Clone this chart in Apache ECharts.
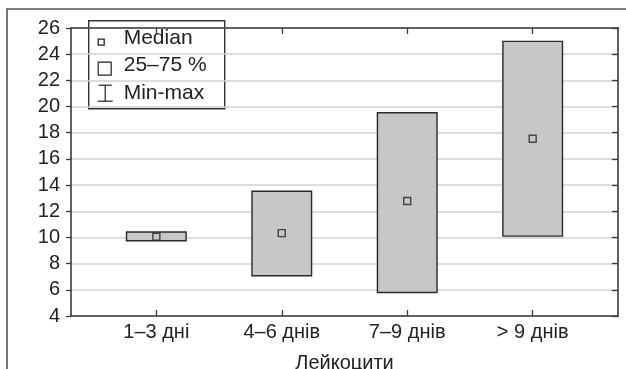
<!DOCTYPE html>
<html>
<head>
<meta charset="utf-8">
<script src="https://cdn.jsdelivr.net/npm/echarts@6/dist/echarts.min.js"></script>
<style>
html,body{margin:0;padding:0;background:#fff;}
#chart{width:626px;height:369px;}
</style>
</head>
<body>
<div id="chart"></div>
<script>
var categories = ['1–3 дні', '4–6 днів', '7–9 днів', '> 9 днів'];
var q1Values = [9.75, 7.08, 5.8, 10.1];
var q3Values = [10.42, 13.53, 19.53, 24.98];
var medianValues = [10.05, 10.33, 12.78, 17.54];
var yTicks = [4, 6, 8, 10, 12, 14, 16, 18, 20, 22, 24, 26];
var legendLabels = ['Median', '25–75 %', 'Min-max'];
var xAxisName = 'Лейкоцити';

var FONT = 'Liberation Sans, Arial, sans-serif';
var positions = categories.map(function (c, i) { return i + 1; });

var boxData = positions.map(function (p, i) { return [p, q1Values[i], q3Values[i]]; });
var medData = positions.map(function (p, i) { return [p, medianValues[i]]; });

var chart = echarts.init(document.getElementById('chart'), null, {renderer: 'canvas'});

var axisLine = {show: true, lineStyle: {color: '#3a3a3a', width: 1.6}};

var option = {
  backgroundColor: '#fff',
  animation: false,
  grid: {left: 71, right: 8, top: 28, bottom: 53, containLabel: false, outerBoundsMode: 'none'},
  xAxis: [{
    type: 'value', position: 'bottom', min: 0.32, max: 4.68,
    axisLine: axisLine,
    splitLine: {show: false},
    axisTick: {show: true, inside: true, length: 6, customValues: positions, lineStyle: {color: '#3a3a3a', width: 1.3}},
    axisLabel: {show: true, customValues: positions, margin: 6, fontFamily: FONT, fontSize: 20, color: '#222',
      formatter: function (v) { return categories[Math.round(v) - 1] || ''; }},
    name: xAxisName, nameLocation: 'middle', nameGap: 37,
    nameTextStyle: {fontFamily: FONT, fontSize: 20, color: '#222'}
  }, {
    type: 'value', position: 'top', min: 0.32, max: 4.68,
    axisLine: axisLine,
    splitLine: {show: false},
    axisTick: {show: true, inside: true, length: 6, customValues: positions, lineStyle: {color: '#3a3a3a', width: 1.3}},
    axisLabel: {show: false}
  }],
  yAxis: [{
    type: 'value', position: 'left', min: 4, max: 26, interval: 2,
    axisLine: axisLine,
    axisTick: {show: true, inside: false, length: 5, lineStyle: {color: '#3a3a3a', width: 1.3}},
    axisLabel: {show: true, margin: 11, fontFamily: FONT, fontSize: 20, color: '#222',
      formatter: function (v) { return yTicks.indexOf(v) >= 0 ? String(v) : ''; }},
    splitLine: {show: true, lineStyle: {color: '#d2d2d2', width: 1.5}}
  }, {
    type: 'value', position: 'right', min: 4, max: 26, interval: 2,
    axisLine: axisLine,
    axisTick: {show: true, inside: true, length: 6, lineStyle: {color: '#3a3a3a', width: 1.3}},
    axisLabel: {show: false},
    splitLine: {show: false}
  }],
  series: [{
    name: legendLabels[1],
    type: 'custom',
    xAxisIndex: 0, yAxisIndex: 0,
    data: boxData,
    encode: {x: 0, y: [1, 2]},
    renderItem: function (params, api) {
      var x = api.value(0);
      var lo = api.coord([x, api.value(1)]);
      var hi = api.coord([x, api.value(2)]);
      var w = api.size([0.475, 0])[0];
      return {
        type: 'rect',
        shape: {x: lo[0] - w / 2, y: hi[1], width: w, height: lo[1] - hi[1]},
        style: {fill: '#c6c7c8', stroke: '#2a2a2a', lineWidth: 1.4}
      };
    },
    z: 3
  }, {
    name: legendLabels[0],
    type: 'scatter',
    xAxisIndex: 0, yAxisIndex: 0,
    data: medData,
    symbol: 'rect',
    symbolSize: 7,
    itemStyle: {color: '#c6c7c8', borderColor: '#222', borderWidth: 1.4},
    z: 4
  }],
  graphic: [
    {type: 'polyline', shape: {points: [[7, 369], [7, 9], [626, 9]]}, style: {stroke: '#555', lineWidth: 1.6, fill: null}, z: 1},
    {type: 'group', left: 88, top: 20, z: 10, children: [
      {type: 'rect', shape: {x: 0, y: 0, width: 136, height: 88}, style: {fill: '#fff', stroke: '#333', lineWidth: 1.4}},
      {type: 'rect', shape: {x: 9.5, y: 18.5, width: 6, height: 6}, style: {fill: '#fff', stroke: '#222', lineWidth: 1.3}},
      {type: 'text', x: 35, y: 17.5, style: {text: legendLabels[0], fontFamily: FONT, fontSize: 21, fill: '#222', verticalAlign: 'middle'}},
      {type: 'rect', shape: {x: 9.5, y: 41.5, width: 13, height: 13}, style: {fill: '#fff', stroke: '#222', lineWidth: 1.2}},
      {type: 'text', x: 35, y: 45, style: {text: legendLabels[1], fontFamily: FONT, fontSize: 21, fill: '#222', verticalAlign: 'middle'}},
      {type: 'polyline', shape: {points: [[10, 64.5], [23, 64.5]]}, style: {stroke: '#222', lineWidth: 1.2, fill: null}},
      {type: 'polyline', shape: {points: [[16.5, 64.5], [16.5, 80.5]]}, style: {stroke: '#222', lineWidth: 1.2, fill: null}},
      {type: 'polyline', shape: {points: [[9, 80.5], [24, 80.5]]}, style: {stroke: '#222', lineWidth: 1.2, fill: null}},
      {type: 'text', x: 35, y: 73, style: {text: legendLabels[2], fontFamily: FONT, fontSize: 21, fill: '#222', verticalAlign: 'middle'}}
    ]}
  ]
};
chart.setOption(option);
</script>
</body>
</html>
